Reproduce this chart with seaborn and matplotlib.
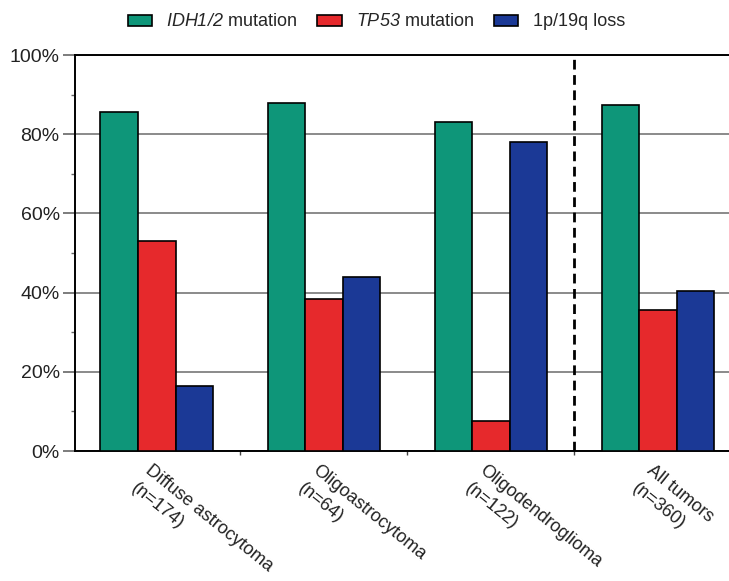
import matplotlib
matplotlib.use("Agg")
import matplotlib.pyplot as plt
import matplotlib.transforms as mtransforms
from matplotlib.ticker import FixedLocator
import seaborn as sns
import pandas as pd

categories = ["Diffuse astrocytoma", "Oligoastrocytoma", "Oligodendroglioma", "All tumors"]
sample_sizes = ["(n=174)", "(n=64)", "(n=122)", "(n=360)"]
series = ["$IDH1/2$ mutation", "$TP53$ mutation", "1p/19q loss"]
idh = [85.5, 88, 83, 87.5]
tp53 = [53, 38.5, 7.5, 35.5]
loss = [16.5, 44, 78, 40.5]
colors = ["#0e9679", "#e6292c", "#1b3996"]
yticks = [0, 20, 40, 60, 80, 100]

sns.set_theme(style="white")
plt.rcParams["font.family"] = ["Liberation Sans", "DejaVu Sans"]
plt.rcParams["mathtext.fontset"] = "custom"
plt.rcParams["mathtext.it"] = "Liberation Sans:italic"
plt.rcParams["mathtext.rm"] = "Liberation Sans:italic"

rows = []
for cat, a, b, c in zip(categories, idh, tp53, loss):
    rows.append((cat, series[0], a))
    rows.append((cat, series[1], b))
    rows.append((cat, series[2], c))
df = pd.DataFrame(rows, columns=["category", "series", "value"])

fig = plt.figure(figsize=(7.29, 5.81), dpi=100)
ax = fig.add_axes([75/729, 130/581, 1 - 75/729, (451-55)/581])

sns.barplot(data=df, x="category", y="value", hue="series", palette=colors,
            width=0.675, gap=0, edgecolor="black", linewidth=1.2,
            saturation=1, ax=ax, legend=True, zorder=3)

ax.set_xlim(-0.49, 3.425)
ax.set_ylim(0, 100)
ax.set_yticks(yticks)
ax.set_yticklabels([f"{v}%" for v in yticks], fontsize=14, color="#222222")
ax.yaxis.set_minor_locator(FixedLocator([10, 30, 50, 70, 90]))
ax.tick_params(axis="y", which="major", length=9, width=1.2, color="#666666", pad=2, left=True)
ax.tick_params(axis="y", which="minor", length=3, width=1, color="#666666", left=True)
ax.yaxis.grid(True, color="#777777", linewidth=1.2)
ax.set_axisbelow(True)
for g in ax.get_ygridlines():
    g.set_zorder(1)

ax.set_xlabel("")
ax.set_ylabel("")
ax.tick_params(axis="x", which="major", length=0, pad=0)
ax.xaxis.set_minor_locator(FixedLocator([0.5, 1.5, 2.5]))
ax.tick_params(axis="x", which="minor", length=3, width=1, color="#444444", bottom=True)
ax.set_xticklabels([])

dpi_tr = fig.dpi_scale_trans
name_off = mtransforms.ScaledTranslation(-4/100, -11/100, dpi_tr)
n_off = mtransforms.ScaledTranslation(-18/100, -28.5/100, dpi_tr)
for i, (name, nlab) in enumerate(zip(categories, sample_sizes)):
    ax.text(i, 0, name, transform=ax.get_xaxis_transform() + name_off,
            rotation=-39, ha="left", va="top", rotation_mode="anchor",
            fontsize=13, color="#222222")
    ax.text(i, 0, nlab, transform=ax.get_xaxis_transform() + n_off,
            rotation=-39, ha="left", va="top", rotation_mode="anchor",
            fontsize=13, color="#222222")

for side in ["left", "bottom", "top"]:
    ax.spines[side].set_visible(True)
    ax.spines[side].set_color("black")
    ax.spines[side].set_linewidth(1.4)
ax.spines["right"].set_visible(False)

ax.axvline(2.5, color="black", linestyle=(0, (3.5, 2)), linewidth=2, zorder=4)

handles, labels = ax.get_legend_handles_labels()
ax.get_legend().remove()
fig.legend(handles, labels, loc="center", bbox_to_anchor=(0.516, 1 - 22/581), ncol=3,
           frameon=False, fontsize=13, handlelength=1.35, handleheight=0.55,
           handletextpad=0.8, columnspacing=1.1)

fig.savefig("out.png", dpi=100)
